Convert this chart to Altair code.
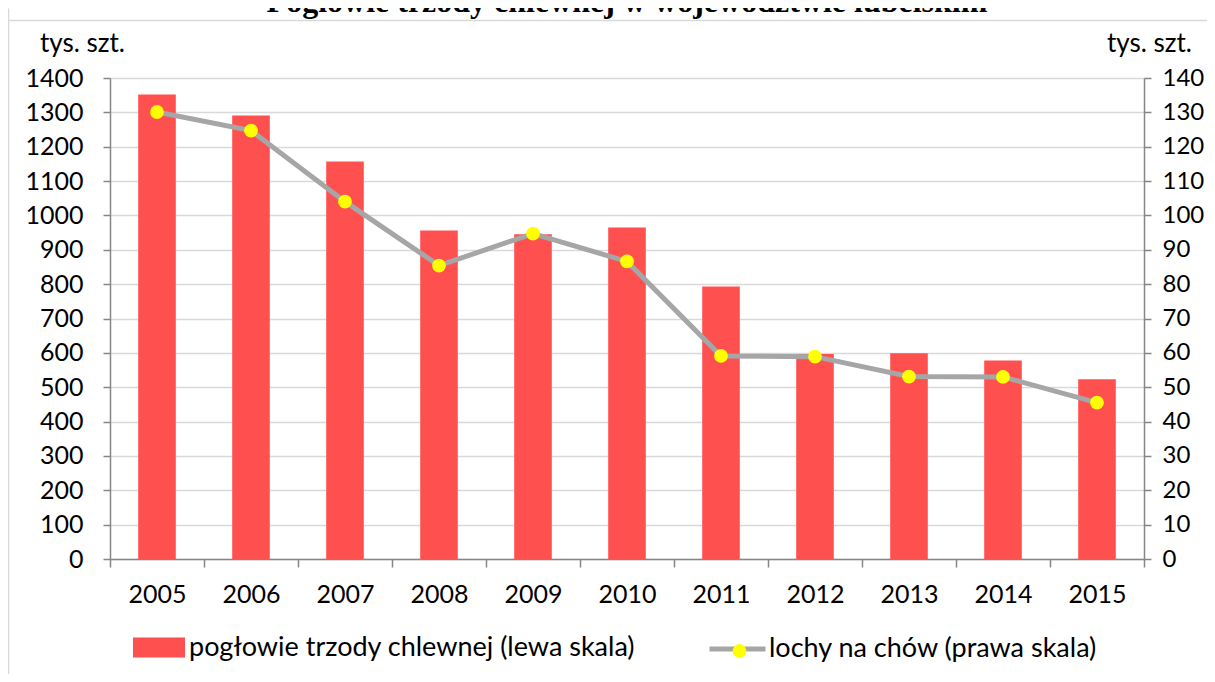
import altair as alt
import pandas as pd

years = ["2005", "2006", "2007", "2008", "2009", "2010", "2011", "2012", "2013", "2014", "2015"]
pig_herd = [1352, 1291, 1157, 956, 945, 965, 793, 597, 599, 578, 523]
sows = [130.1, 124.7, 104.0, 85.4, 94.7, 86.6, 59.1, 58.9, 53.1, 53.0, 45.5]
left_ticks = list(range(0, 1401, 100))
right_ticks = list(range(0, 141, 10))

title_text = "Pogłowie trzody chlewnej w województwie lubelskim"
bar_label = "pogłowie trzody chlewnej (lewa skala)"
line_label = "lochy na chów (prawa skala)"
unit_label = "tys. szt."

df = pd.DataFrame({
    "year": years,
    "herd": pig_herd,
    "sows": sows,
    "bar_series": bar_label,
    "line_series": line_label,
    "dot": " ",
})

FONT = "Lato"
FS = 25
RFS = 24
TFS = 26
LFS = 27
AXC = "#868686"
PW, PH = 1034, 481

x_enc = alt.X(
    "year:N",
    title=None,
    scale=alt.Scale(paddingInner=0, paddingOuter=0),
    axis=alt.Axis(
        labelAngle=0, tickBand="extent", domainColor=AXC, domainWidth=1.5,
        tickColor=AXC, tickWidth=1.5, tickSize=8, labelPadding=15,
        labelFont=FONT, labelFontSize=FS, labelColor="black", grid=False,
    ),
)

left_axis = alt.Axis(
    values=left_ticks, format="d", title=unit_label, titleAngle=0, titleX=-28, titleY=-27,
    titleAlign="center", titleBaseline="alphabetic", titleFont=FONT,
    titleFontSize=TFS, titleFontWeight="normal", titleColor="black",
    grid=True, gridColor="#D9D9D9", gridWidth=1.5,
    domainColor=AXC, domainWidth=1.5, tickColor=AXC, tickWidth=1.5, tickSize=7,
    labelPadding=20, labelFont=FONT, labelFontSize=FS, labelColor="black",
)

right_axis = alt.Axis(
    orient="right", values=right_ticks, format="d", title=unit_label, titleAngle=0,
    titleX=5, titleY=-27, titleAlign="center", titleBaseline="alphabetic",
    titleFont=FONT, titleFontSize=TFS, titleFontWeight="normal", titleColor="black",
    grid=False, domainColor=AXC, domainWidth=1.5, tickColor=AXC, tickWidth=1.5,
    tickSize=7, labelPadding=11, labelFont=FONT, labelFontSize=RFS, labelColor="black",
)

legend_common = dict(
    orient="none", title=None, padding=0, labelFont=FONT, labelFontSize=LFS,
    labelColor="black", labelLimit=0,
)

base = alt.Chart(df)

bars = base.mark_bar(width={"band": 0.4}).encode(
    x=x_enc,
    y=alt.Y("herd:Q", scale=alt.Scale(domain=[0, 1400], nice=False), axis=left_axis),
    color=alt.Color(
        "bar_series:N",
        scale=alt.Scale(domain=[bar_label], range=["#FF5050"]),
        legend=alt.Legend(
            legendX=23, legendY=543.5,
            symbolType="M-1,-0.385H1V0.385H-1Z", symbolSize=2704,
            symbolStrokeWidth=0, symbolOpacity=1, labelOffset=4, **legend_common,
        ),
    ),
)

y_right = alt.Y("sows:Q", scale=alt.Scale(domain=[0, 140], nice=False), axis=right_axis)

line = base.mark_line(strokeWidth=5).encode(
    x=x_enc,
    y=y_right,
    stroke=alt.Stroke(
        "line_series:N",
        scale=alt.Scale(domain=[line_label], range=["#A6A6A6"]),
        legend=alt.Legend(
            legendX=597, legendY=540.5, symbolType="stroke",
            symbolSize=3136, symbolStrokeWidth=5, labelOffset=1, zindex=1,
            **legend_common,
        ),
    ),
)

points = base.mark_point(filled=True, size=190, opacity=1).encode(
    x=x_enc,
    y=y_right,
    fill=alt.Fill(
        "dot:N",
        scale=alt.Scale(domain=[" "], range=["#FFFF00"]),
        legend=alt.Legend(
            legendX=616, legendY=559.5, symbolType="circle", symbolSize=190,
            symbolStrokeWidth=0, symbolOpacity=1, labelOffset=0, zindex=2,
            **legend_common,
        ),
    ),
)

frame_data = alt.Data(values=[{"t": title_text}])
frame_left = alt.Chart(frame_data).mark_rule(color="#D9D9D9", strokeWidth=1.5).encode(
    x=alt.value(-101.5), y=alt.value(-69.5), y2=alt.value(PH + 120)
)
frame_top = alt.Chart(frame_data).mark_rule(color="#D9D9D9", strokeWidth=1.5).encode(
    x=alt.value(-101.5), x2=alt.value(PW + 70), y=alt.value(-57.5)
)
title_mark = alt.Chart(frame_data).mark_text(
    font="Liberation Serif", fontSize=32, fontWeight="bold", color="black",
    align="center", baseline="alphabetic",
).encode(text="t:N", x=alt.value(PW / 2), y=alt.value(-66))

chart = alt.layer(
    frame_left,
    frame_top,
    title_mark,
    bars,
    alt.layer(line, points),
).resolve_scale(y="independent").properties(
    width=PW,
    height=PH,
    autosize=alt.AutoSizeParams(type="none"),
    padding={"left": 102, "top": 70, "right": 63, "bottom": 115},
).configure_view(stroke=None).configure(background="white")

chart.save("out.html", embed_options={"renderer": "svg", "actions": False})
